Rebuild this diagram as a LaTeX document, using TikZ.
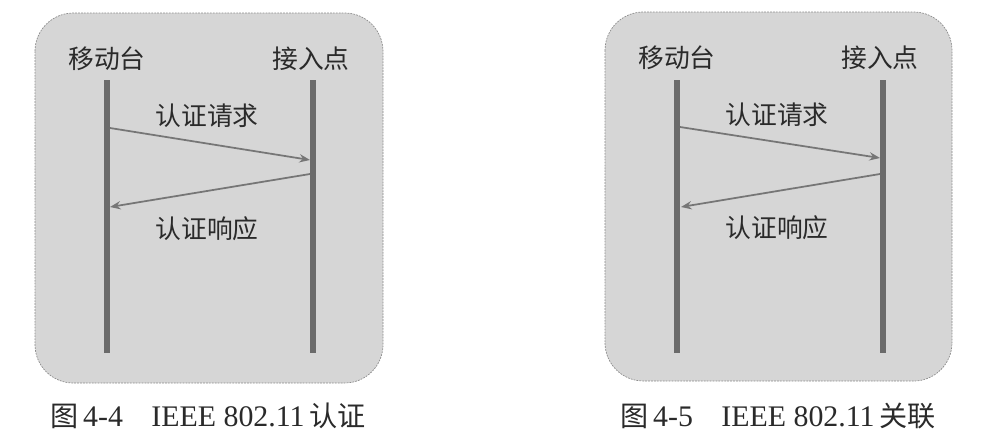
\documentclass[tikz,border=0pt]{standalone}
\usepackage{fontspec}
\setmainfont{Liberation Serif}
\newfontfamily\cjk{Noto Sans CJK SC}
\usetikzlibrary{arrows.meta}
\definecolor{panelgray}{HTML}{D6D6D6}
\definecolor{panelrim}{HTML}{8C8C8C}
\definecolor{lifegray}{HTML}{6B6B6B}
\definecolor{msggray}{HTML}{767676}
\definecolor{inkgray}{HTML}{2A2A2A}
\newcommand{\zhcap}[1]{{\cjk\fontsize{24}{30}\selectfont #1}}

\begin{document}
\begin{tikzpicture}[x=0.03cm, y=-0.03cm,
    panel/.style={draw=panelrim, fill=panelgray, line width=0.6pt, dash pattern=on 1.5pt off 1pt, rounded corners=1.15cm},
    lifeline/.style={line width=5pt, lifegray},
    msgarrow/.style={line width=1.5pt, msggray, -{Stealth[length=3.2mm, width=2.5mm, inset=1.1mm]}},
    actor/.style={font=\cjk\fontsize{22}{26}\selectfont, text=inkgray, inner sep=0pt},
    msglabel/.style={actor},
    figcaption/.style={font=\fontsize{25.5}{30}\selectfont, text=inkgray, inner sep=0pt}]

  \useasboundingbox (0,0) rectangle (981,447);

  % Figura 4-4: autenticacion
  \draw[panel] (35,13) rectangle (383,383);
  \node[actor] (ms1) at (107,59) {移动台};
  \node[actor] (ap1) at (311,59) {接入点};
  \coordinate (ms1top) at (107,80);
  \coordinate (ms1bot) at (107,353);
  \coordinate (ap1top) at (313,80);
  \coordinate (ap1bot) at (313,353);
  \draw[lifeline] (ms1top) -- (ms1bot);
  \draw[lifeline] (ap1top) -- (ap1bot);
  \coordinate (req1a) at (110,128);
  \coordinate (req1b) at (310,160);
  \coordinate (rsp1a) at (310,174);
  \coordinate (rsp1b) at (110,207);
  \draw[msgarrow] (req1a) -- (req1b);
  \draw[msgarrow] (rsp1a) -- (rsp1b);
  \node[msglabel] (req1) at (207,116) {认证请求};
  \node[msglabel] (rsp1) at (207,229) {认证响应};
  \node[figcaption] (cap1) at (208,416) {\zhcap{图}\,4-4\hspace{0.95em}IEEE 802.11\,\zhcap{认证}};

  % Figura 4-5: asociacion
  \draw[panel] (605,12) rectangle (952,381);
  \node[actor] (ms2) at (677,58) {移动台};
  \node[actor] (ap2) at (880,58) {接入点};
  \coordinate (ms2top) at (677,80);
  \coordinate (ms2bot) at (677,353);
  \coordinate (ap2top) at (883,80);
  \coordinate (ap2bot) at (883,353);
  \draw[lifeline] (ms2top) -- (ms2bot);
  \draw[lifeline] (ap2top) -- (ap2bot);
  \coordinate (req2a) at (680,127);
  \coordinate (req2b) at (880,158);
  \coordinate (rsp2a) at (880,174);
  \coordinate (rsp2b) at (681,207);
  \draw[msgarrow] (req2a) -- (req2b);
  \draw[msgarrow] (rsp2a) -- (rsp2b);
  \node[msglabel] (req2) at (777,115) {认证请求};
  \node[msglabel] (rsp2) at (777,228) {认证响应};
  \node[figcaption] (cap2) at (778,416) {\zhcap{图}\,4-5\hspace{0.95em}IEEE 802.11\,\zhcap{关联}};
\end{tikzpicture}
\end{document}
